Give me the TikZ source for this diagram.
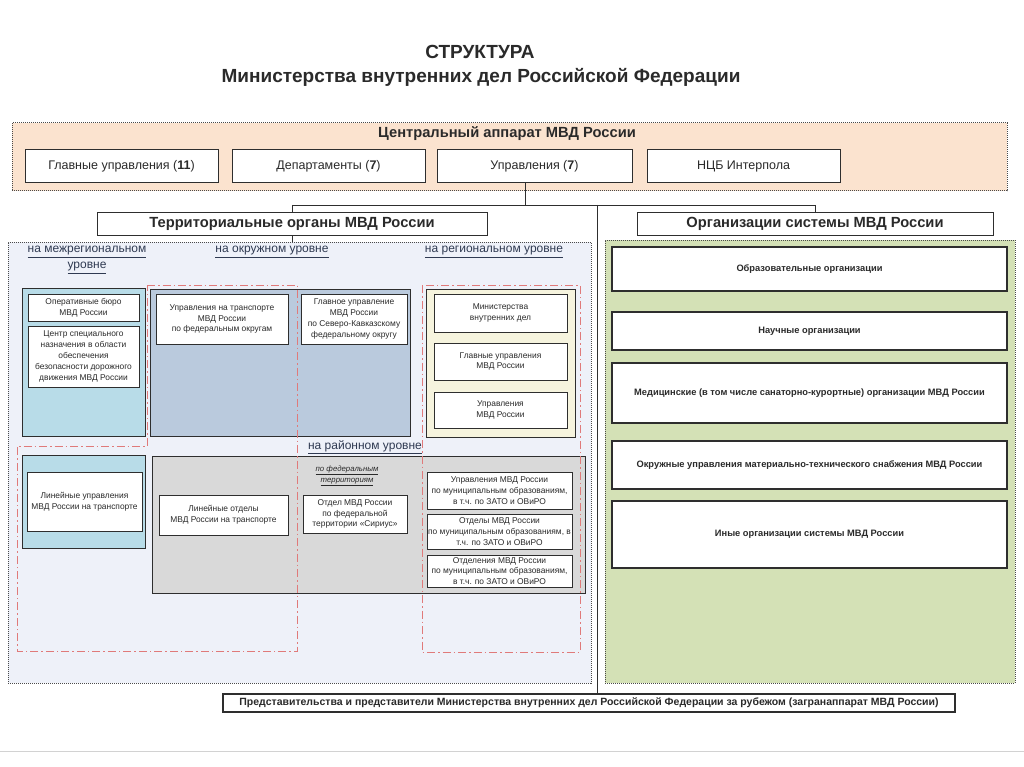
\documentclass[tikz,border=0pt]{standalone}
\usepackage{fontspec}
\setmainfont{Liberation Sans}
\definecolor{cOrange}{HTML}{FBE3CF}
\definecolor{cLav}{HTML}{EEF1F9}
\definecolor{cGreen}{HTML}{D4E1B6}
\definecolor{cLightBlue}{HTML}{B8DCE8}
\definecolor{cSteel}{HTML}{BACADD}
\definecolor{cYellow}{HTML}{F6F4DE}
\definecolor{cGray}{HTML}{D9D9D9}
\definecolor{cRed}{HTML}{E07A7A}
\definecolor{cDark}{HTML}{2E2E2E}
\definecolor{cText}{HTML}{2A2A2A}
\definecolor{cBorder}{HTML}{4A4A4A}
\definecolor{cLvl}{HTML}{2F3A52}
\newcommand{\rbox}[7]{\node[#1,minimum width={(#5-#3)*1pt},minimum height={(#6-#4)*1pt}] (#2) at ({(#3+#5)/2},{(#4+#6)/2}) {#7};}
\begin{document}
\begin{tikzpicture}[x=1pt,y=-1pt,
  every node/.style={inner sep=0pt,outer sep=0pt,text=cText},
  cont/.style={draw=cBorder,densely dotted,line width=1pt},
  colbox/.style={draw=cDark,line width=1pt},
  cbox/.style={draw=cDark,fill=white,line width=1pt,font=\fontsize{12.5}{14}\selectfont},
  hbox/.style={draw=cDark,fill=white,line width=1pt,font=\bfseries\fontsize{14.7}{16}\selectfont},
  gbox/.style={draw=cDark,fill=white,line width=1.1pt,font=\bfseries\fontsize{9.3}{11}\selectfont},
  sbox/.style={draw=cDark,fill=white,line width=0.9pt,align=center,font=\fontsize{8.4}{10.8}\selectfont},
  lvl/.style={align=center,text=cLvl,font=\fontsize{12}{16}\selectfont},
  redframe/.style={draw=cRed,line width=0.8pt,dash pattern=on 8pt off 3pt on 1.5pt off 3pt},
  conn/.style={draw=cDark,line width=0.9pt}]
\useasboundingbox (0,0) rectangle (1024,767);
\fill[white] (0,0) rectangle (1024,767);
% title
\node[font=\bfseries\fontsize{19}{22}\selectfont] (t1) at (480,52) {СТРУКТУРА};
\node[font=\bfseries\fontsize{19}{22}\selectfont] (t2) at (481,77) {Министерства внутренних дел Российской Федерации};
% central apparatus
\rbox{cont,fill=cOrange}{ca}{12}{123}{1007}{191}{}
\node[font=\bfseries\fontsize{14.7}{16}\selectfont] (catitle) at (507,134) {Центральный аппарат МВД России};
\rbox{cbox}{g1}{25}{150}{218}{183}{Главные управления (\textbf{11})}
\rbox{cbox}{g2}{232}{150}{425}{183}{Департаменты (\textbf{7})}
\rbox{cbox}{g3}{437}{150}{632}{183}{Управления (\textbf{7})}
\rbox{cbox}{g4}{647}{150}{840}{183}{НЦБ Интерпола}
% containers
\rbox{cont,fill=cLav}{tc}{8}{242}{591}{683}{}
\rbox{cont,fill=cGreen}{gc}{605}{240}{1015}{683}{}
\rbox{hbox}{terr}{97}{213}{487}{235}{Территориальные органы МВД России}
\rbox{hbox}{orgs}{637}{213}{993}{235}{Организации системы МВД России}
% organisations
\rbox{gbox}{o1}{612}{247}{1007}{291}{Образовательные организации}
\rbox{gbox}{o2}{612}{312}{1007}{350}{Научные организации}
\rbox{gbox}{o3}{612}{363}{1007}{423}{Медицинские (в том числе санаторно-курортные) организации МВД России}
\rbox{gbox}{o4}{612}{441}{1007}{489}{Окружные управления материально-технического снабжения МВД России}
\rbox{gbox}{o5}{612}{501}{1007}{568}{Иные организации системы МВД России}
% coloured level boxes
\rbox{colbox,fill=cLightBlue}{mb1}{22}{288}{145}{436}{}
\rbox{colbox,fill=cSteel}{ok}{150}{289}{410}{436}{}
\rbox{colbox,fill=cYellow}{rg}{426}{289}{575}{437}{}
\rbox{colbox,fill=cLightBlue}{mb2}{22}{455}{145}{548}{}
\rbox{colbox,fill=cGray}{rn}{152}{456}{585}{593}{}
% red dash-dot frames
\draw[redframe] (147,285) -- (297,285) -- (297,651) -- (17,651) -- (17,446) -- (147,446) -- cycle;
\draw[redframe] (422,285) rectangle (580,652);
% level labels
\node[lvl] (lv1) at (87,260) {\underline{на межрегиональном}\\\underline{уровне}};
\node[lvl] (lv2) at (272,252) {\underline{на окружном уровне}};
\node[lvl] (lv3) at (494,252) {\underline{на региональном уровне}};
\node[lvl] (lv4) at (365,447) {\underline{на районном уровне}};
\node[align=center,font=\itshape\fontsize{7.8}{11}\selectfont] (ft) at (347,476) {\underline{по федеральным}\\\underline{территориям}};
% white boxes
\rbox{sbox}{w1}{28}{294}{139}{321}{Оперативные бюро\\МВД России}
\rbox{sbox}{w2}{28}{326}{139}{387}{Центр специального\\назначения в области\\обеспечения\\безопасности дорожного\\движения МВД России}
\rbox{sbox}{w3}{156}{294}{288}{344}{Управления на транспорте\\МВД России\\по федеральным округам}
\rbox{sbox}{w4}{301}{294}{407}{344}{Главное управление\\МВД России\\по Северо-Кавказскому\\федеральному округу}
\rbox{sbox}{r1}{434}{294}{567}{332}{Министерства\\внутренних дел}
\rbox{sbox}{r2}{434}{343}{567}{380}{Главные управления\\МВД России}
\rbox{sbox}{r3}{434}{392}{567}{428}{Управления\\МВД России}
\rbox{sbox}{w5}{27}{472}{142}{531}{Линейные управления\\МВД России на транспорте}
\rbox{sbox}{w6}{159}{495}{288}{535}{Линейные отделы\\МВД России на транспорте}
\rbox{sbox}{w7}{303}{495}{407}{533}{Отдел МВД России\\по федеральной\\территории «Сириус»}
\rbox{sbox}{d1}{427}{472}{572}{509}{Управления МВД России\\по муниципальным образованиям,\\в т.ч. по ЗАТО и ОВиРО}
\rbox{sbox}{d2}{427}{514}{572}{549}{Отделы МВД России\\по муниципальным образованиям, в\\т.ч. по ЗАТО и ОВиРО}
\rbox{sbox}{d3}{427}{555}{572}{587}{Отделения МВД России\\по муниципальным образованиям,\\в т.ч. по ЗАТО и ОВиРО}
% bottom box
\rbox{draw=cDark,fill=white,line width=1.1pt,font=\bfseries\fontsize{10.5}{12}\selectfont}{bb}{223}{694}{955}{712}{Представительства и представители Министерства внутренних дел Российской Федерации за рубежом (загранаппарат МВД России)}
\draw[gray!35,line width=0.8pt] (0,751) -- (1024,751);
% connectors
\coordinate (j) at (525,205);
\coordinate (jm) at (597,205);
\draw[conn] (g3.south -| j) -- (j);
\draw[conn] (terr.north |- j) -- (orgs.north |- j);
\draw[conn] (terr.north |- j) -- (terr.north);
\draw[conn] (terr.south) -- (tc.north -| terr.south);
\draw[conn] (orgs.north |- j) -- (orgs.north);
\draw[conn] (jm) -- (bb.north -| jm);
\end{tikzpicture}
\end{document}
